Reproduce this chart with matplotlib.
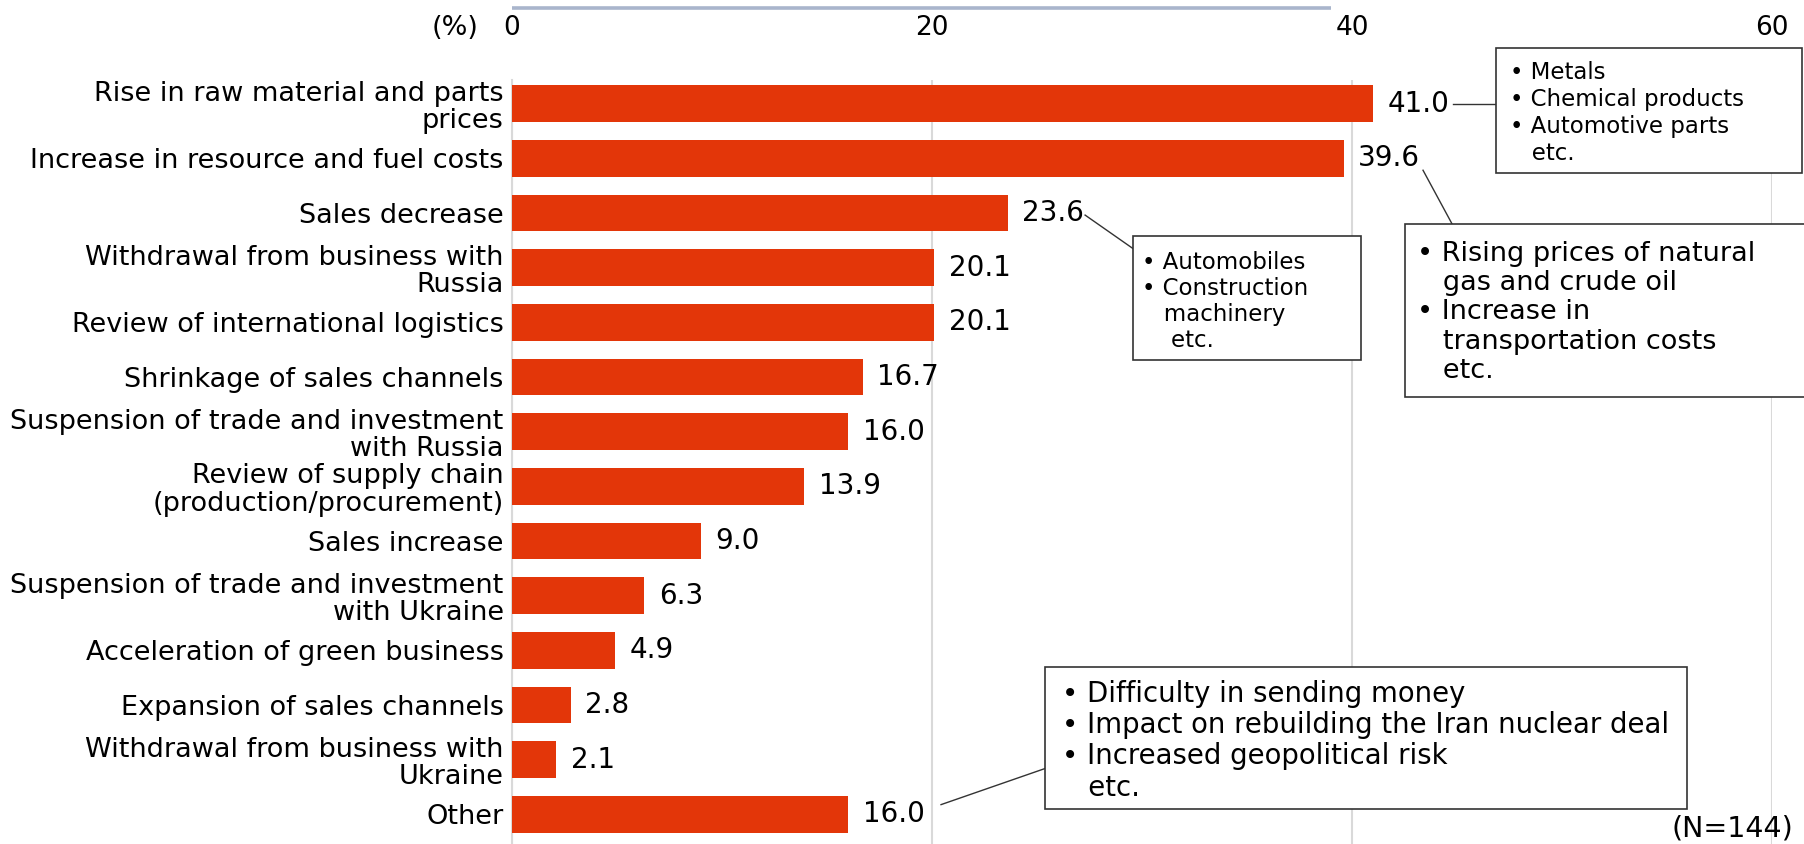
import matplotlib
matplotlib.use("Agg")
import matplotlib.pyplot as plt
from matplotlib.patches import Rectangle
import numpy as np

# ── data ──────────────────────────────────────────────────────────────────────
categories = [
    "Rise in raw material and parts\nprices",
    "Increase in resource and fuel costs",
    "Sales decrease",
    "Withdrawal from business with\nRussia",
    "Review of international logistics",
    "Shrinkage of sales channels",
    "Suspension of trade and investment\nwith Russia",
    "Review of supply chain\n(production/procurement)",
    "Sales increase",
    "Suspension of trade and investment\nwith Ukraine",
    "Acceleration of green business",
    "Expansion of sales channels",
    "Withdrawal from business with\nUkraine",
    "Other",
]
values = [41.0, 39.6, 23.6, 20.1, 20.1, 16.7, 16.0, 13.9, 9.0, 6.3, 4.9, 2.8, 2.1, 16.0]
x_ticks = [0, 20, 40, 60]
top_band_end = 39.0

notes_raw = "• Metals\n• Chemical products\n• Automotive parts\n   etc."
notes_fuel = "• Rising prices of natural\n   gas and crude oil\n• Increase in\n   transportation costs\n   etc."
notes_sales = "• Automobiles\n• Construction\n   machinery\n    etc."
notes_other = ("• Difficulty in sending money\n• Impact on rebuilding the Iran nuclear deal\n"
               "• Increased geopolitical risk\n   etc.")

BAR_COLOR = "#e33609"
GRID_COLOR = "#d9d9d9"

plt.rcParams["font.family"] = ["DejaVu Sans"]

fig = plt.figure(figsize=(18.04, 8.44), dpi=100)
ax = fig.add_axes([0.2838, 0.0, 0.6985, 0.9052])

y = np.arange(len(categories))
ax.barh(y, values, height=0.67, color=BAR_COLOR, zorder=3)

for yi, v in zip(y, values):
    ax.text(v + 0.7, yi, f"{v:.1f}", va="center", ha="left", fontsize=20, zorder=4)

ax.set_xlim(0, 60)
ax.set_ylim(13.54, -0.43)
ax.set_yticks(y)
ax.set_yticklabels(categories, fontsize=19.5, linespacing=1.08)
ax.set_xticks(x_ticks)
ax.set_xticklabels([str(t) for t in x_ticks], fontsize=19)
ax.xaxis.tick_top()
ax.tick_params(axis="x", length=0, pad=28)
ax.tick_params(axis="y", length=0, pad=6)
ax.grid(axis="x", color=GRID_COLOR, linewidth=1.5, zorder=0)
for s in ("top", "right", "bottom"):
    ax.spines[s].set_visible(False)
ax.spines["left"].set_color(GRID_COLOR)
ax.spines["left"].set_linewidth(1.5)

# (%) unit label and the thin band above the axis
ax.text(-1.6, 1.068, "(%)", transform=ax.get_xaxis_transform(), ha="right", va="center",
        fontsize=19.5)
ax.plot([0, top_band_end], [1.094, 1.094], transform=ax.get_xaxis_transform(),
        color="#a9b5cc", linewidth=2.6, clip_on=False, solid_capstyle="butt")

# ── callout boxes ─────────────────────────────────────────────────────────────
def callout(x0, x1, y0, y1, tx, ty, text, size, ls):
    ax.add_patch(Rectangle((x0, y0), x1 - x0, y1 - y0, facecolor="white",
                           edgecolor="#333333", linewidth=1.2, clip_on=False, zorder=5))
    ax.text(tx, ty, text, ha="left", va="center", fontsize=size, linespacing=ls,
            zorder=6, clip_on=False)

def connector(xa, ya, xb, yb):
    ax.plot([xa, xb], [ya, yb], color="#333333", linewidth=1.0, clip_on=False, zorder=5)

# raw materials
connector(44.8, 0.0, 46.86, 0.0)
callout(46.86, 61.43, -1.02, 1.27, 47.5, 0.17, notes_raw, 16.5, 1.22)
# resource and fuel
connector(43.38, 1.22, 44.76, 2.20)
callout(42.52, 61.6, 2.20, 5.36, 43.1, 3.82, notes_fuel, 19.5, 1.17)
# sales decrease
connector(27.29, 2.04, 29.86, 2.73)
callout(29.57, 40.43, 2.42, 4.69, 30.0, 3.62, notes_sales, 16.5, 1.15)
# other
connector(20.43, 12.82, 25.38, 12.16)
callout(25.38, 55.95, 10.30, 12.90, 26.19, 11.65, notes_other, 19.8, 1.15)

ax.text(61.0, 13.26, "(N=144)", ha="right", va="center", fontsize=20.5, clip_on=False)

fig.savefig("out.png", dpi=100)
